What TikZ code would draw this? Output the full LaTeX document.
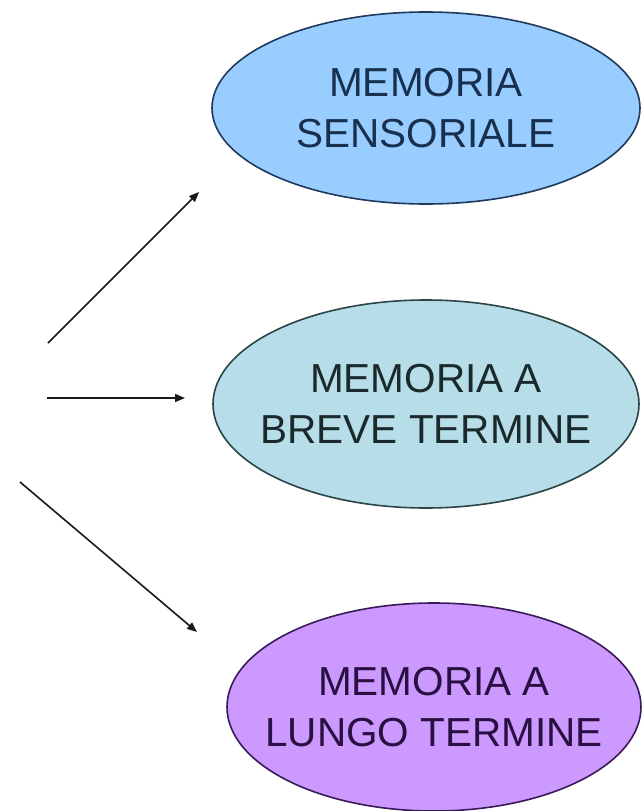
\documentclass[tikz,border=0pt]{standalone}
\usepackage{fontspec}
\setmainfont{Liberation Sans}
\usetikzlibrary{shapes.geometric,arrows.meta}

\definecolor{sensfill}{HTML}{99CCFF}
\definecolor{sensline}{HTML}{1F3A5C}
\definecolor{sensText}{HTML}{17304F}
\definecolor{brevefill}{HTML}{B7DEE8}
\definecolor{breveline}{HTML}{2A4448}
\definecolor{breveText}{HTML}{1A292C}
\definecolor{lungofill}{HTML}{CC99FF}
\definecolor{lungoline}{HTML}{3A1A58}
\definecolor{lungoText}{HTML}{2A0F42}

% zero-width lines, so that the ellipse keeps its minimum size
\newcommand{\riga}[1]{\makebox[0pt]{#1}}

\tikzset{
    memoria/.style={ellipse, draw, line width=1.6pt, inner sep=0pt,
        align=center, font=\fontsize{40.5}{51}\selectfont},
    freccia/.style={-{Triangle[length=10pt,width=8pt]}, line width=1.6pt, black!90}
}

\begin{document}
\begin{tikzpicture}[x=1pt,y=-1pt]
            \useasboundingbox[fill=white] (0,0) rectangle (641,811);

            \node[memoria, fill=sensfill, draw=sensline, text=sensText,
                minimum width=428pt, minimum height=192pt] (sens) at (426,108)
                {\riga{MEMORIA}\\\riga{SENSORIALE}};
            \node[memoria, fill=brevefill, draw=breveline, text=breveText,
                minimum width=426pt, minimum height=208pt] (breve) at (426,404)
                {\riga{MEMORIA A}\\\riga{BREVE TERMINE}};
            \node[memoria, fill=lungofill, draw=lungoline, text=lungoText,
                minimum width=414pt, minimum height=208pt] (lungo) at (434,707)
                {\riga{MEMORIA A}\\\riga{LUNGO TERMINE}};

            \coordinate (su0) at (48,343);   \coordinate (su1) at (199,192);
            \coordinate (me0) at (47,398);   \coordinate (me1) at (185,398);
            \coordinate (giu0) at (20,482);  \coordinate (giu1) at (197,632);

            \draw[freccia] (su0) -- (su1);
            \draw[freccia] (me0) -- (me1);
            \draw[freccia] (giu0) -- (giu1);
        \end{tikzpicture}
\end{document}
